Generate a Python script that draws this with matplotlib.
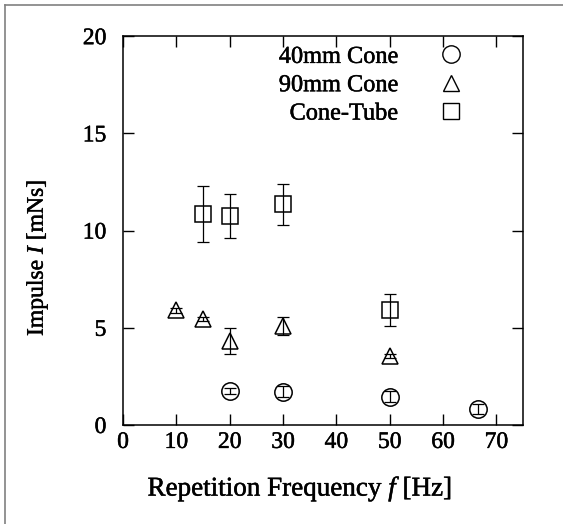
import numpy as np
import matplotlib
matplotlib.use("Agg")
import matplotlib.pyplot as plt
import matplotlib.patheffects as pe
from matplotlib.lines import Line2D

plt.rcParams['font.family'] = ['Liberation Serif', 'DejaVu Serif']
plt.rcParams['mathtext.fontset'] = 'custom'
plt.rcParams['mathtext.rm'] = 'Liberation Serif'
plt.rcParams['mathtext.it'] = 'Liberation Serif:italic'

# 40mm Cone
f_40 = [20, 30, 50, 66.5]
imp_40 = [1.75, 1.72, 1.46, 0.81]
err_40 = [0.15, 0.28, 0.30, 0.27]

# 90mm Cone
f_90 = [10, 15, 20, 30, 50]
imp_90 = [5.9, 5.45, 4.3, 5.1, 3.56]
err_90 = [0.12, 0.12, 0.67, 0.47, 0.10]

# Cone-Tube
f_ct = [15, 20, 30, 50]
imp_ct = [10.85, 10.75, 11.35, 5.92]
err_ct = [1.45, 1.15, 1.05, 0.82]

x_ticks = [0, 10, 20, 30, 40, 50, 60, 70]
y_ticks = [0, 5, 10, 15, 20]

heavy = [pe.withStroke(linewidth=0.35, foreground="black")]

fig = plt.figure(figsize=(5.63, 5.24), dpi=100)
ax = fig.add_axes([0.2185, 0.189, 0.7105, 0.742])

series = [
    ("40mm Cone", f_40, imp_40, err_40, "o", 12.5),
    ("90mm Cone", f_90, imp_90, err_90, "^", 12),
    ("Cone-Tube", f_ct, imp_ct, err_ct, "s", 12),
]
handles = []
for name, xs, ys, es, mk, ms in series:
    ax.errorbar(xs, ys, yerr=es, fmt="none", ecolor="black", elinewidth=0.9,
                capsize=4.5, capthick=0.9)
    ax.plot(xs, ys, linestyle="none", marker=mk, markersize=ms,
            markerfacecolor="none", markeredgecolor="black", markeredgewidth=1.1)
    handles.append(Line2D([], [], linestyle="none", marker=mk, markersize=ms,
                          markerfacecolor="none", markeredgecolor="black",
                          markeredgewidth=1.0, label=name))

ax.set_xlim(0, 75)
ax.set_ylim(0, 20)
ax.set_xticks(x_ticks)
ax.set_yticks(y_ticks)
ax.tick_params(direction="in", length=8, width=1, top=True, right=True,
               labelsize=17)
ax.tick_params(axis="x", pad=5)
ax.tick_params(axis="y", pad=12)
for s in ax.spines.values():
    s.set_linewidth(1.1)
for lbl in ax.get_xticklabels() + ax.get_yticklabels():
    lbl.set_path_effects(heavy)

ax.set_xlabel(r"Repetition Frequency $\mathit{f}$ [Hz]", fontsize=19.5)
ax.set_ylabel(r"Impulse $\mathit{I}$ [mNs]", fontsize=17)
ax.xaxis.set_label_coords(0.4425, -0.128)
ax.yaxis.set_label_coords(-0.183, 0.43)
ax.xaxis.label.set_path_effects(heavy)
ax.yaxis.label.set_path_effects(heavy)

leg = ax.legend(handles=handles, loc="upper right", bbox_to_anchor=(0.9, 1.0),
                frameon=False, markerfirst=False, fontsize=17.5,
                handlelength=1.8, handletextpad=1.3, labelspacing=0.26,
                borderaxespad=0.0)
for t in leg.get_texts():
    t.set_ha("right")
    t.set_path_effects(heavy)

# grey frame at left and top of the picture
fig.add_artist(Line2D([0.009, 0.009], [0, 0.991], color="#808080", lw=1.2))
fig.add_artist(Line2D([0.009, 1], [0.991, 0.991], color="#808080", lw=1.2))

fig.savefig("out.png", dpi=100)
